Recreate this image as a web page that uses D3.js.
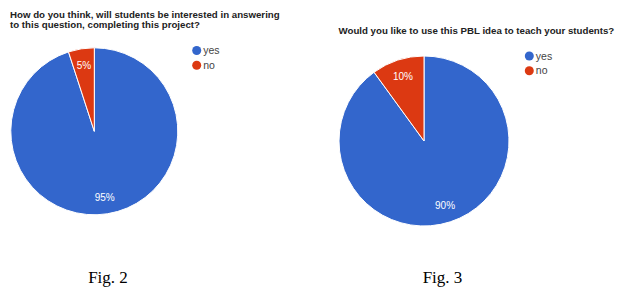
<!DOCTYPE html>
<html>
<head>
<meta charset="utf-8">
<script src="https://cdn.jsdelivr.net/npm/d3@7"></script>
<style>
  html, body { margin: 0; padding: 0; background: #fff; }
</style>
</head>
<body>
<script>
// --- data ---
const categories = ["yes", "no"];
const fig2Values = [95, 5];
const fig3Values = [90, 10];
const fig2Title = ["How do you think, will students be interested in answering", "to this question, completing this project?"];
const fig3Title = ["Would you like to use this PBL idea to teach your students?"];
const captions = ["Fig. 2", "Fig. 3"];

const width = 624, height = 294;
const COLORS = ["#3366cc", "#dc3912"];

const svg = d3.select("body").append("svg")
  .attr("width", width)
  .attr("height", height)
  .style("font-family", "'Liberation Sans', Arial, sans-serif");

svg.append("rect").attr("width", width).attr("height", height).attr("fill", "#fff");

const color = d3.scaleOrdinal(categories, COLORS);

const panels = [
  { values: fig2Values, title: fig2Title, caption: captions[0],
    cx: 94.3, cy: 131.3, r: 83.5, titleX: 10, titleY: 17.8,
    legX: 196.7, legY: 50.5, capX: 108 },
  { values: fig3Values, title: fig3Title, caption: captions[1],
    cx: 424, cy: 141, r: 85, titleX: 338.5, titleY: 34.2,
    legX: 529.3, legY: 56, capX: 442.5 }
];

const pie = d3.pie().sort(null).value(d => d.value);

panels.forEach(p => {
  const g = svg.append("g");
  const data = categories.map((c, i) => ({ key: c, value: p.values[i] }));
  const arcs = pie(data);
  const arc = d3.arc().innerRadius(0).outerRadius(p.r);
  const labelArc = d3.arc().innerRadius(p.r * 0.8).outerRadius(p.r * 0.8);

  // title
  g.append("text")
    .attr("x", p.titleX)
    .attr("y", p.titleY)
    .attr("font-size", 9.7)
    .attr("font-weight", 700)
    .attr("fill", "#222")
    .selectAll("tspan")
    .data(p.title)
    .join("tspan")
    .attr("x", p.titleX)
    .attr("dy", (d, i) => i === 0 ? 0 : 10.5)
    .text(d => d);

  // slices
  const pg = g.append("g").attr("transform", `translate(${p.cx},${p.cy})`);
  pg.selectAll("path")
    .data(arcs)
    .join("path")
    .attr("d", arc)
    .attr("fill", d => color(d.data.key))
    .attr("stroke", "#fff")
    .attr("stroke-width", 1);

  const total = d3.sum(data, d => d.value);
  pg.selectAll("text")
    .data(arcs)
    .join("text")
    .attr("transform", d => `translate(${labelArc.centroid(d)})`)
    .attr("text-anchor", "middle")
    .attr("dy", "0.35em")
    .attr("font-size", 10)
    .attr("fill", "#fff")
    .text(d => `${Math.round(d.data.value / total * 100)}%`);

  // legend
  const lg = g.append("g").attr("transform", `translate(${p.legX},${p.legY})`);
  const items = lg.selectAll("g")
    .data(categories)
    .join("g")
    .attr("transform", (d, i) => `translate(0,${i * 14.7})`);
  items.append("circle")
    .attr("r", 4.5)
    .attr("fill", d => color(d));
  items.append("text")
    .attr("x", 6.5)
    .attr("dy", "0.35em")
    .attr("font-size", 10.5)
    .attr("fill", "#444")
    .text(d => d);

  // caption
  g.append("text")
    .attr("x", p.capX)
    .attr("y", 283.3)
    .attr("text-anchor", "middle")
    .attr("font-family", "'Liberation Serif', 'Times New Roman', serif")
    .attr("font-size", 17)
    .attr("fill", "#000")
    .text(p.caption);
});
</script>
</body>
</html>
